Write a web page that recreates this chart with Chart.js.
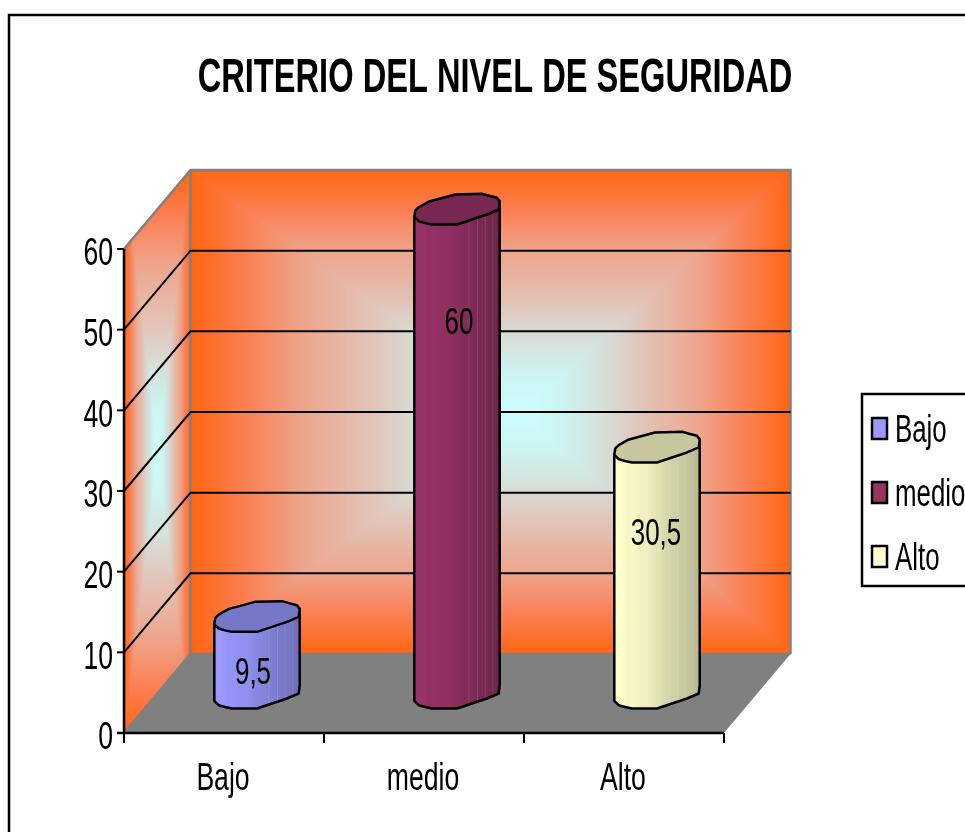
<!DOCTYPE html>
<html><head><meta charset="utf-8">
<style>html,body{margin:0;padding:0;background:#fff;overflow:hidden}canvas{display:block}</style>
<script src="https://cdn.jsdelivr.net/npm/chart.js@4"></script>
</head><body>
<canvas id="c" width="965" height="832"></canvas>
<script>
const chartTitle = "CRITERIO DEL NIVEL DE SEGURIDAD";
const categories = ["Bajo", "medio", "Alto"];
const values = [9.5, 60, 30.5];
const yTicks = [0, 10, 20, 30, 40, 50, 60];
const barColors = ["#9999ff", "#993366", "#ffffcc"];

const FONT = '"Liberation Sans", Arial, sans-serif';
const DEPTH_X = 66.5, DEPTH_Y = 79, BAR_DX = 33, BAR_DY = 39.5;
const LABEL_DROP = [57, 114, 87], LABEL_NUDGE = [-4, 2, -1];
const RAMP = [[0,[255,102,17]],[.17,[251,128,85]],[.34,[237,165,141]],[.55,[226,196,184]],[.7,[214,224,218]],[.85,[204,245,242]],[1,[204,255,255]]];

function rampColor(d){
  for(let i=1;i<RAMP.length;i++){
    if(d<=RAMP[i][0]){
      const [a,ca]=RAMP[i-1],[b,cb]=RAMP[i],k=(d-a)/(b-a);
      return [0,1,2].map(j=>ca[j]+(cb[j]-ca[j])*k);
    }
  }
  return RAMP[RAMP.length-1][1];
}
function wallImage(w,h,cxFrac){
  const cv=document.createElement('canvas');cv.width=w;cv.height=h;
  const g=cv.getContext('2d'),im=g.createImageData(w,h),cx=w*cxFrac,cy=h/2;
  for(let y=0;y<h;y++)for(let x=0;x<w;x++){
    const u=x<cx?(cx-x)/cx:(x-cx)/(w-cx),v=Math.abs(y-cy)/cy;
    const c=rampColor(1-Math.max(u,v)),p=(y*w+x)*4;
    im.data[p]=c[0];im.data[p+1]=c[1];im.data[p+2]=c[2];im.data[p+3]=255;
  }
  g.putImageData(im,0,0);return cv;
}
function text(ctx,str,x,y,size,opt={}){
  const sx=opt.sx||.7;
  ctx.save();
  ctx.font=(opt.bold?'bold ':'')+size+'px '+FONT;
  ctx.fillStyle='#000';ctx.textBaseline='middle';ctx.textAlign=opt.align||'center';
  ctx.translate(x,y);ctx.scale(sx,1);ctx.fillText(str,0,0);
  ctx.restore();
}
function shade(hex,f){
  const n=parseInt(hex.slice(1),16);
  return `rgb(${Math.round((n>>16&255)*f)},${Math.round((n>>8&255)*f)},${Math.round((n&255)*f)})`;
}
const CAP=[[-42.7,7.3],[-41.7,1],[-38,-2.5],[-28,-8],[-2,-15],[25,-15.7],[33,-13.5],[40,-11.7],[42.7,-8],[41.7,0],[30,5],[0,15],[-25,15],[-32,13.5],[-38.3,11.7]];

const scene={
  id:'scene',
  beforeDatasetsDraw(chart){
    const {ctx,chartArea:a,scales:{x:xs,y:ys}}=chart;
    const L=a.left,R=a.right,B=a.bottom,T=a.top;
    ctx.save();
    // outer frame
    ctx.strokeStyle='#000';ctx.lineWidth=2.5;ctx.strokeRect(9,15,2000,2000);
    // back wall
    ctx.drawImage(wallImage(Math.round(R-L),Math.round(B-T),.55),L+DEPTH_X,T-DEPTH_Y,R-L,B-T);
    // side wall: the gradient fills the wall's bounding box, clipped to the parallelogram
    ctx.save();
    ctx.beginPath();ctx.moveTo(L,T);ctx.lineTo(L+DEPTH_X,T-DEPTH_Y);ctx.lineTo(L+DEPTH_X,B-DEPTH_Y);ctx.lineTo(L,B);ctx.closePath();ctx.clip();
    ctx.drawImage(wallImage(Math.round(DEPTH_X),Math.round(B-T+DEPTH_Y),.5),L,T-DEPTH_Y,DEPTH_X,B-T+DEPTH_Y);
    ctx.restore();
    // floor
    ctx.fillStyle='#808080';
    ctx.beginPath();ctx.moveTo(L,B);ctx.lineTo(R,B);ctx.lineTo(R+DEPTH_X,B-DEPTH_Y);ctx.lineTo(L+DEPTH_X,B-DEPTH_Y);ctx.closePath();ctx.fill();
    // wall edges
    ctx.strokeStyle='#808080';ctx.lineWidth=2.5;
    ctx.beginPath();ctx.moveTo(L,T);ctx.lineTo(L+DEPTH_X,T-DEPTH_Y);ctx.lineTo(R+DEPTH_X,T-DEPTH_Y);ctx.lineTo(R+DEPTH_X,B-DEPTH_Y);
    ctx.moveTo(L+DEPTH_X,T-DEPTH_Y);ctx.lineTo(L+DEPTH_X,B-DEPTH_Y);ctx.lineTo(R+DEPTH_X,B-DEPTH_Y);
    ctx.moveTo(L+DEPTH_X,B-DEPTH_Y);ctx.lineTo(L,B);ctx.stroke();
    // gridlines
    ctx.strokeStyle='#000';ctx.lineWidth=2;
    yTicks.forEach(t=>{
      if(t===0||t===60)return;
      const y=ys.getPixelForValue(t);
      ctx.beginPath();ctx.moveTo(L,y);ctx.lineTo(L+DEPTH_X,y-DEPTH_Y);ctx.lineTo(R+DEPTH_X,y-DEPTH_Y);ctx.stroke();
    });
    // axes
    ctx.lineWidth=2.5;
    ctx.beginPath();ctx.moveTo(L,T);ctx.lineTo(L,B+1);ctx.moveTo(L-7,B);ctx.lineTo(R,B);ctx.stroke();
    ctx.lineWidth=2;
    yTicks.forEach(t=>{const y=ys.getPixelForValue(t);ctx.beginPath();ctx.moveTo(L-7,y);ctx.lineTo(L,y);ctx.stroke();});
    for(let i=0;i<=categories.length;i++){
      const x=L+(R-L)*i/categories.length;
      ctx.beginPath();ctx.moveTo(x,B);ctx.lineTo(x,B+10);ctx.stroke();
    }
    ctx.restore();
    // text
    text(ctx,chartTitle,495,78,49,{bold:true,sx:.666});
    yTicks.forEach(t=>text(ctx,String(t),L-11,ys.getPixelForValue(t)+6,38,{align:'right'}));
    categories.forEach((c,i)=>text(ctx,c,xs.getPixelForValue(i)-1,780,38));
    // legend
    ctx.save();
    ctx.strokeStyle='#000';ctx.lineWidth=2.5;ctx.fillStyle='#fff';
    ctx.fillRect(862,394,200,192);ctx.strokeRect(862,394,200,192);
    categories.forEach((c,i)=>{
      const y=418+i*64;
      ctx.fillStyle=barColors[i];ctx.fillRect(872,y,15,21);ctx.strokeRect(872,y,15,21);
      text(ctx,c,895,y+14,38,{align:'left',sx:.68});
    });
    ctx.restore();
  },
  beforeDatasetDraw(chart,args){
    const {ctx}=chart,meta=args.meta;
    meta.data.forEach((bar,i)=>{
      const {x,y,base,width}=bar.getProps(['x','y','base','width'],true);
      const cx=x+BAR_DX,cy=y-BAR_DY,by=base-BAR_DY,k=width/85.4,col=barColors[i];
      const pts=CAP.map(([a,b])=>[cx+a*k,b]);
      // body
      const grad=ctx.createLinearGradient(cx-42.7*k,0,cx+42.7*k,0);
      const bands=[1,1,.97,.97,.94,.94,.9,.88,.84,.82,.8,.78,.74,.72];
      bands.forEach((f,j)=>{grad.addColorStop(j/(bands.length-1),shade(col,f));});
      ctx.save();
      ctx.beginPath();
      const lower=[[42.7,-8],[41.7,0],[30,5],[0,15],[-25,15],[-32,13.5],[-38.3,11.7],[-42.7,7.3]];
      ctx.moveTo(cx-42.7*k,cy+7.3);
      ctx.lineTo(cx-42.7*k,by+7.3);
      lower.slice().reverse().forEach(([a,b])=>ctx.lineTo(cx+a*k,by+b));
      ctx.lineTo(cx+42.7*k,cy-8);
      ctx.closePath();
      ctx.fillStyle=grad;ctx.fill();
      ctx.strokeStyle='#000';ctx.lineWidth=2.5;ctx.lineJoin='round';ctx.stroke();
      ctx.clip();
      // facet seams
      ctx.strokeStyle='rgba(255,255,255,.12)';ctx.lineWidth=1;
      [.64,.74,.83,.92].forEach(f=>{const sx=cx-42.7*k+85.4*k*f;ctx.beginPath();ctx.moveTo(sx,cy);ctx.lineTo(sx,by+12);ctx.stroke();});
      ctx.restore();
      // cap
      ctx.beginPath();
      pts.forEach((p,j)=>{const py=cy+p[1];j?ctx.lineTo(p[0],py):ctx.moveTo(p[0],py);});
      ctx.closePath();
      ctx.fillStyle=shade(col,.78);ctx.fill();
      ctx.strokeStyle='#000';ctx.lineWidth=2.5;ctx.lineJoin='round';ctx.stroke();
    });
    return false;
  },
  afterDatasetsDraw(chart){
    const {ctx}=chart,meta=chart.getDatasetMeta(0);
    meta.data.forEach((bar,i)=>{
      const p=bar.getProps(['x','y'],true);
      text(ctx,String(values[i]).replace('.',','),p.x+BAR_DX+LABEL_NUDGE[i],p.y-BAR_DY+LABEL_DROP[i],37);
    });
  }
};

new Chart(document.getElementById('c'),{
  type:'bar',
  data:{labels:categories,datasets:[{data:values,backgroundColor:barColors,barPercentage:.427,categoryPercentage:1}]},
  plugins:[scene],
  options:{
    responsive:false,animation:false,
    layout:{padding:{left:124,right:241,top:249,bottom:99}},
    plugins:{legend:{display:false},title:{display:false},tooltip:{enabled:false}},
    scales:{
      x:{type:'category',display:true,grid:{display:false,tickLength:0,drawTicks:false},border:{display:false},ticks:{display:false,padding:0}},
      y:{min:0,max:60,grid:{display:false,tickLength:0,drawTicks:false},border:{display:false},ticks:{display:false,stepSize:10,padding:0}}
    }
  }
});
</script>
</body></html>
